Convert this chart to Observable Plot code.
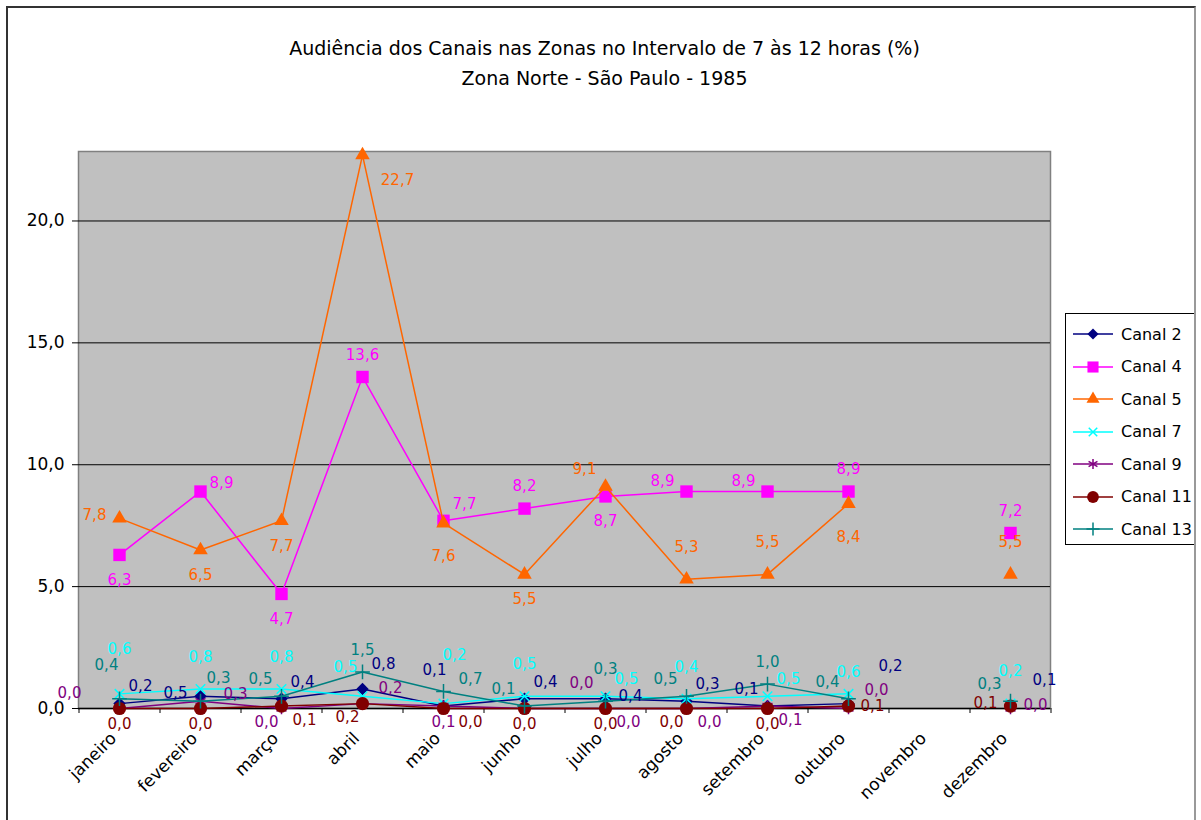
<!DOCTYPE html>
<html>
<head>
<meta charset="utf-8">
<script src="https://cdn.jsdelivr.net/npm/d3@7"></script>
<script src="https://cdn.jsdelivr.net/npm/@observablehq/plot@0.6"></script>
<style>
  html, body { margin: 0; padding: 0; background: #fff; }
  #wrap { position: relative; width: 1201px; height: 820px; overflow: hidden; font-family: "DejaVu Sans", sans-serif; }
  #border { position: absolute; left: 6px; top: 6px; width: 1190px; height: 830px; border: 2px solid #333; border-right-color: #999; box-sizing: border-box; pointer-events: none; }
  #title { text-align: center; font-size: 19px; line-height: 30px; padding-top: 33px; height: 60px; padding-left: 8px; color: #000; }
  #legend { position: absolute; left: 1065px; top: 313px; width: 130px; height: 232px; border: 1px solid #000; background: #fff; box-sizing: border-box; padding-top: 4px; }
  .lrow { display: flex; align-items: center; height: 32.5px; }
  .lrow svg { margin-left: 5px; }
  .lrow span { margin-left: 6px; font-size: 16px; }
</style>
</head>
<body>
<div id="wrap">
  <div id="title">Audiência dos Canais nas Zonas no Intervalo de 7 às 12 horas (%)<br>Zona Norte - São Paulo - 1985</div>
  <div id="chart"></div>
  <div id="legend"></div>
  <div id="border"></div>
</div>
<script>
// ---- data ----
const months = ["janeiro","fevereiro","março","abril","maio","junho","julho","agosto","setembro","outubro","novembro","dezembro"];
const seriesNames = ["Canal 2","Canal 4","Canal 5","Canal 7","Canal 9","Canal 11","Canal 13"];
const canal2  = [0.2, 0.5, 0.4, 0.8, 0.1, 0.4, 0.4, 0.3, 0.1, 0.2, null, 0.1];
const canal4  = [6.3, 8.9, 4.7, 13.6, 7.7, 8.2, 8.7, 8.9, 8.9, 8.9, null, 7.2];
const canal5  = [7.8, 6.5, 7.7, 22.7, 7.6, 5.5, 9.1, 5.3, 5.5, 8.4, null, 5.5];
const canal7  = [0.6, 0.8, 0.8, 0.5, 0.2, 0.5, 0.5, 0.4, 0.5, 0.6, null, 0.2];
const canal9  = [0.0, 0.3, 0.0, 0.2, 0.1, 0.0, 0.0, 0.0, 0.1, 0.0, null, 0.0];
const canal11 = [0.0, 0.0, 0.1, 0.2, 0.0, 0.0, 0.0, 0.0, 0.0, 0.1, null, 0.1];
const canal13 = [0.4, 0.3, 0.5, 1.5, 0.7, 0.1, 0.3, 0.5, 1.0, 0.4, null, 0.3];
const yTicks = [0, 5, 10, 15, 20];

// ---- styles (separate from data) ----
const colors  = ["#000080","#FF00FF","#FF6600","#00FFFF","#800080","#800000","#008080"];
const symbols = ["diamond2","square","triangle","times","asterisk","circle","plus"];
const radii   = [5.6, 7.0, 5.4, 4.4, 5.4, 6.6, 4.8];
const filled  = [true, true, true, false, false, true, false];

// label placement codes per series (layout only)
const labelPos = {
  "Canal 2":  ["tr","l","tr","tr2","tt2","tr","r","tr","tl","tr3",null,"trr"],
  "Canal 4":  ["b","ru","b","t","tr","t","b","lu","lu","t",null,"t"],
  "Canal 5":  ["l","b","b","brr","bb","b","tl","tt","tt","bb",null,"tt"],
  "Canal 7":  ["ttt","tt","tt","tl2","ttt2","tt","tr","tt","tr","t",null,"tt"],
  "Canal 9":  ["ll","rr2","bl","r2","b1","trrr","br","br","br","r3",null,"r"],
  "Canal 11": ["b1","b1","br","bl","br2","b1","b1","bl","b1","r4",null,"l"],
  "Canal 13": ["ttl","tr4","tl","t","rr3","tl","tt","tl","t","tl",null,"tl"]
};
const offsets = {
  t:[0,-22], tt:[0,-32], tt2:[-9,-36], ttt:[0,-45], ttt2:[11,-48], b:[0,25], b1:[0,16], bb:[0,33],
  l:[-25,-3], ll:[-50,-15], r:[25,-3], r2:[28,-15], r3:[28,-18], r4:[24,0],
  rr:[34,-10], rr2:[35,-7], rr3:[27,-12], ru:[21,-8], lu:[-24,-10],
  tr:[21,-17], tr2:[21,-25], tr3:[42,-37], tr4:[18,-23], trr:[34,-26], trrr:[57,-25],
  tl:[-21,-17], tl2:[-17,-29], ttl:[-13,-34],
  br:[23,14], br2:[27,14], brr:[35,25], bl:[-15,14]
};

const seriesValues = [canal2, canal4, canal5, canal7, canal9, canal11, canal13];
const table = [];
seriesNames.forEach((s, si) => {
  months.forEach((m, mi) => {
    table.push({series: s, si, month: m, value: seriesValues[si][mi], pos: labelPos[s][mi]});
  });
});

const fmt = v => v.toFixed(1).replace(".", ",");

const marks = [
  Plot.frame({fill: "#C0C0C0", stroke: "#808080", strokeWidth: 1.5}),
  Plot.gridY(yTicks.filter(d => d > 0), {stroke: "#000", strokeOpacity: 1, strokeWidth: 1}),
  Plot.axisY(yTicks, {tickFormat: fmt, tickSize: 6, tickPadding: 8, fontSize: 17, label: null, stroke: "#000"}),
  Plot.ruleY([0], {stroke: "#000", strokeWidth: 1.5}),
  Plot.axisX({tickSize: 5, dx: -40.5, tickFormat: () => "", label: null, stroke: "#000"}),
  Plot.axisX(["dezembro"], {tickSize: 5, dx: 40.5, tickFormat: () => "", label: null, stroke: "#000"}),
  Plot.axisX({tickSize: 0, tickRotate: -45, tickPadding: 27, dx: -6, fontSize: 17, label: null})
];

seriesNames.forEach((s, si) => {
  const d = table.filter(r => r.series === s);
  marks.push(Plot.line(d, {x: "month", y: "value", stroke: colors[si], strokeWidth: 1.5}));
  const dotOpts = {x: "month", y: "value", symbol: symbols[si], r: radii[si]};
  if (filled[si]) { dotOpts.fill = colors[si]; dotOpts.stroke = "none"; }
  else { dotOpts.fill = "none"; dotOpts.stroke = colors[si]; dotOpts.strokeWidth = 1.5; }
  marks.push(Plot.dot(d.filter(r => r.value != null), dotOpts));
});

// labels grouped by placement code
seriesNames.forEach((s, si) => {
  Object.keys(offsets).forEach(code => {
    const d = table.filter(r => r.series === s && r.pos === code && r.value != null);
    if (!d.length) return;
    marks.push(Plot.text(d, {
      x: "month", y: "value", text: r => fmt(r.value),
      fill: colors[si], fontSize: 15, dx: offsets[code][0], dy: offsets[code][1]
    }));
  });
});

const chart = Plot.plot({
  width: 1201,
  height: 727,
  marginLeft: 78,
  marginRight: 151,
  marginTop: 58,
  marginBottom: 112,
  style: {fontFamily: "DejaVu Sans, sans-serif", fontSize: "16px", background: "transparent", color: "#000"},
  x: {type: "point", domain: months, padding: 0.5},
  y: {domain: [0, 22.85]},
  marks
});
document.getElementById("chart").appendChild(chart);

// legend
const legend = document.getElementById("legend");
seriesNames.forEach((s, si) => {
  const row = document.createElement("div");
  row.className = "lrow";
  const svg = d3.create("svg").attr("width", 44).attr("height", 20);
  svg.append("line").attr("x1", 2).attr("x2", 42).attr("y1", 10).attr("y2", 10)
    .attr("stroke", colors[si]).attr("stroke-width", 1.5);
  const symMap = {diamond2: d3.symbolDiamond2, square: d3.symbolSquare, triangle: d3.symbolTriangle,
    times: d3.symbolTimes, asterisk: d3.symbolAsterisk, circle: d3.symbolCircle, plus: d3.symbolPlus};
  const p = svg.append("path").attr("transform", "translate(22,10)")
    .attr("d", d3.symbol(symMap[symbols[si]], Math.PI * radii[si] * radii[si] * 0.8)());
  if (filled[si]) p.attr("fill", colors[si]);
  else p.attr("fill", "none").attr("stroke", colors[si]).attr("stroke-width", 1.5);
  row.appendChild(svg.node());
  const t = document.createElement("span");
  t.textContent = s;
  row.appendChild(t);
  legend.appendChild(row);
});
</script>
</body>
</html>
